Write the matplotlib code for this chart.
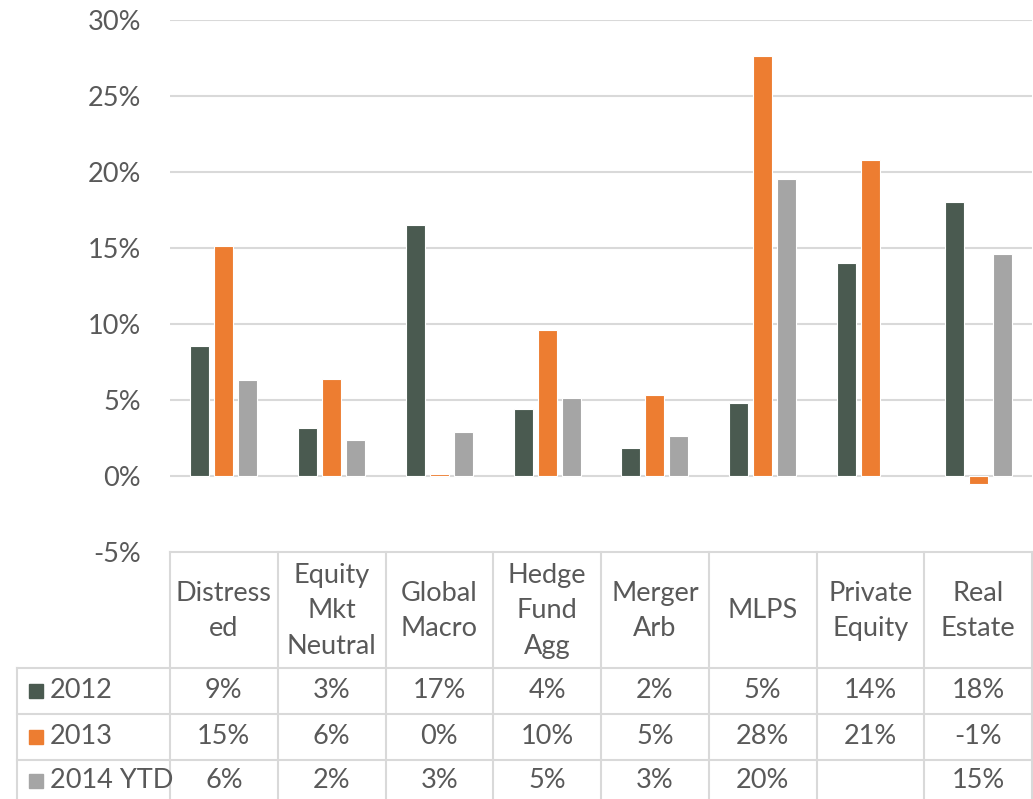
import matplotlib
matplotlib.use("Agg")
import matplotlib.pyplot as plt
import numpy as np
from matplotlib.transforms import blended_transform_factory
from matplotlib.patches import Rectangle
from matplotlib.lines import Line2D

plt.rcParams['font.family'] = ['Lato', 'DejaVu Sans']

categories = ["Distress\ned", "Equity\nMkt\nNeutral", "Global\nMacro", "Hedge\nFund\nAgg",
              "Merger\nArb", "MLPS", "Private\nEquity", "Real\nEstate"]
series_names = ["2012", "2013", "2014 YTD"]
v2012 = [8.52, 3.15, 16.52, 4.4, 1.84, 4.8, 14.0, 18.0]
v2013 = [15.1, 6.4, 0.1, 9.6, 5.3, 27.6, 20.8, -0.52]
v2014 = [6.3, 2.4, 2.9, 5.1, 2.6, 19.52, np.nan, 14.6]
series = [v2012, v2013, v2014]
colors = ["#4A5A50", "#ED7D31", "#A5A5A5"]
yticks = [-5, 0, 5, 10, 15, 20, 25, 30]

W, H = 1033, 799
fig = plt.figure(figsize=(W/100, H/100), dpi=100)
ax = fig.add_axes([170/W, 1-552/H, 862/W, 532/H])

x = np.arange(len(categories))
bw = 0.176
step = 0.223
for k, (vals, c) in enumerate(zip(series, colors)):
    ax.bar(x + (k-1)*step, vals, width=bw, color=c, edgecolor='white', linewidth=0.8, zorder=3)

ax.set_xlim(-0.5, len(categories)-0.5)
ax.set_ylim(-5, 30)
ax.set_yticks(yticks)
ax.set_yticklabels([f"{t}%" for t in yticks])
ax.tick_params(axis='y', length=0, pad=21, labelsize=19.5, labelcolor='#595959')
ax.set_xticks([])
for s in ax.spines.values():
    s.set_visible(False)
for t in yticks[1:]:
    ax.axhline(t, color='#D9D9D9', linewidth=1.5, zorder=1)

# data table
txt = blended_transform_factory(ax.transData, fig.transFigure)
lc = '#D9D9D9'
def fy(py):
    return 1 - py/H

tc = '#595959'
fs = 19.5
# horizontal lines
fig.add_artist(Line2D([170/W, 1032/W], [fy(552), fy(552)], color=lc, lw=1.5))
for py in [668, 714, 760]:
    fig.add_artist(Line2D([17/W, 1032/W], [fy(py), fy(py)], color=lc, lw=1.5))
# vertical lines
for i in range(len(categories)+1):
    xb = i - 0.5
    fig.add_artist(Line2D([xb, xb], [fy(552), fy(799)], color=lc, lw=1.5, transform=txt))
fig.add_artist(Line2D([17/W, 17/W], [fy(668), fy(799)], color=lc, lw=1.5))

for i, cat in enumerate(categories):
    fig.text(i, fy(611), cat, transform=txt, ha='center', va='center',
             fontsize=fs, color=tc, linespacing=1.52)

row_y = [691, 737, 781]
for r, (name, vals, c) in enumerate(zip(series_names, series, colors)):
    yy = fy(row_y[r])
    fig.add_artist(Rectangle((29/W, yy - 7/H), 14/W, 14/H, color=c, transform=fig.transFigure))
    fig.text(50/W, yy, name, ha='left', va='center', fontsize=fs, color=tc)
    for i, v in enumerate(vals):
        if np.isnan(v):
            continue
        fig.text(i, yy, f"{v:.0f}%", transform=txt, ha='center', va='center',
                 fontsize=fs, color=tc)

fig.savefig("out.png", dpi=100)
